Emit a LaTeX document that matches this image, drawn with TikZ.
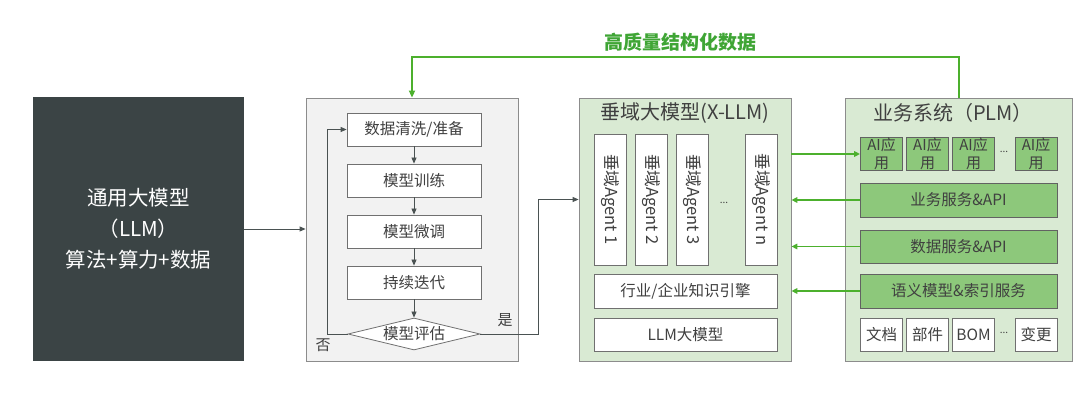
\documentclass[tikz,border=0pt]{standalone}
\usepackage{fontspec}
\setmainfont{Noto Sans CJK SC}
\usetikzlibrary{arrows.meta,shapes.geometric}
\definecolor{darkbox}{RGB}{59,68,69}
\definecolor{grayfill}{RGB}{242,242,242}
\definecolor{bordergray}{RGB}{140,140,140}
\definecolor{lightgreen}{RGB}{217,234,211}
\definecolor{midgreen}{RGB}{141,200,123}
\definecolor{linegreen}{RGB}{76,176,45}
\definecolor{textgreen}{RGB}{63,165,53}
\definecolor{conn}{RGB}{74,82,82}
\definecolor{txt}{RGB}{64,64,64}
\begin{document}
\begin{tikzpicture}[x=1pt,y=-1pt,
  panel/.style={draw=bordergray, line width=0.8pt, minimum width=#1, inner sep=0pt},
  wbox/.style={draw=bordergray!80!black, line width=0.8pt, fill=white, inner sep=0pt, text=txt, font=\fontsize{15.5}{17}\selectfont},
  gbox/.style={draw=bordergray!70!black, line width=0.8pt, fill=midgreen, inner sep=0pt, text=txt, font=\fontsize{15.5}{17}\selectfont},
  agent/.style={wbox, minimum width=32pt, minimum height=131pt},
  flow/.style={draw=conn, line width=0.8pt, -{Triangle[length=6pt,width=5pt]}},
  gline/.style={draw=linegreen, line width=1.8pt, -{Triangle[length=7pt,width=6pt]}},
  gside/.style={draw=linegreen, line width=1.5pt, -{Triangle[length=6pt,width=5.5pt]}},
  title/.style={text=txt, font=\fontsize{20}{22}\selectfont}
]
\useasboundingbox (0,0) rectangle (1080,411);

% left dark box
\node[fill=darkbox, minimum width=211pt, minimum height=264pt, inner sep=0pt,
      text=white, align=center, font=\fontsize{20.5}{31}\selectfont] (llm) at (138.5,229)
      {通用大模型\\（LLM）\\算法+算力+数据};

% gray process panel
\node[panel=212pt, fill=grayfill, minimum height=263pt] (proc) at (412,229.5) {};
\node[wbox, minimum width=134pt, minimum height=33pt] (b1) at (414,129.5) {数据清洗/准备};
\node[wbox, minimum width=134pt, minimum height=33pt] (b2) at (414,180.5) {模型训练};
\node[wbox, minimum width=134pt, minimum height=33pt] (b3) at (414,231.5) {模型微调};
\node[wbox, minimum width=134pt, minimum height=33pt] (b4) at (414,282.5) {持续迭代};
\node[wbox, diamond, aspect=4, minimum width=132pt, minimum height=32pt] (dm) at (414,334) {模型评估};
\node[text=txt, font=\fontsize{15}{17}\selectfont] (no) at (323,345) {否};
\node[text=txt, font=\fontsize{15}{17}\selectfont] (yes) at (505,320) {是};

% X-LLM panel
\node[panel=212pt, fill=lightgreen, minimum height=263pt] (xllm) at (685,229.5) {};
\node[title] (xt) at (685,113) {垂域大模型(X-LLM)};
\node[agent] (a1) at (610.5,199.5) {};
\node[agent] (a2) at (651,199.5) {};
\node[agent] (a3) at (692,199.5) {};
\node[agent] (an) at (761,199.5) {};
\foreach \n/\lab in {a1/垂域Agent 1,a2/垂域Agent 2,a3/垂域Agent 3,an/垂域Agent n}
  \node[rotate=-90, text=txt, font=\fontsize{16.5}{18}\selectfont] (\n t) at (\n) {\lab};
\node[text=txt, font=\fontsize{10}{12}\selectfont] (adots) at (724,203) {...};
\node[wbox, minimum width=183pt, minimum height=34pt] (kb) at (685.5,291) {行业/企业知识引擎};
\node[wbox, minimum width=183pt, minimum height=33pt] (lm) at (685.5,334.5) {LLM大模型};

% PLM panel
\node[panel=227pt, fill=lightgreen, minimum height=263pt] (plm) at (958.5,229.5) {};
\node[title] (pt) at (953,113) {业务系统（PLM）};
\foreach \n/\x in {ai1/881.5,ai2/927.5,ai3/973.5,ai4/1036}
  \node[gbox, minimum width=42pt, minimum height=33pt, align=center, font=\fontsize{15}{17.5}\selectfont] (\n) at (\x,154) {AI应\\用};
\node[text=txt, font=\fontsize{10}{12}\selectfont] (pdots1) at (1004,152) {...};
\node[gbox, minimum width=197pt, minimum height=34pt] (s1) at (958.5,200) {业务服务\&API};
\node[gbox, minimum width=197pt, minimum height=33pt] (s2) at (958.5,246.5) {数据服务\&API};
\node[gbox, minimum width=197pt, minimum height=34pt] (s3) at (958.5,291) {语义模型\&索引服务};
\foreach \n/\x/\lab in {d1/881.5/文档,d2/927.5/部件,d3/973.5/BOM,d4/1036/变更}
  \node[wbox, minimum width=42pt, minimum height=33pt] (\n) at (\x,334.5) {\lab};
\node[text=txt, font=\fontsize{10}{12}\selectfont] (pdots2) at (1004,333) {...};

% connectors
\draw[flow] (llm.east) -- (proc.west |- llm.east);
\draw[flow] (b1) -- (b2);
\draw[flow] (b2) -- (b3);
\draw[flow] (b3) -- (b4);
\draw[flow] (b4) -- (dm);
\coordinate (noL) at (327,334);
\draw[flow] (dm.west) -- (noL) |- (b1.west);
\coordinate (yesR) at (538,334);
\draw[flow] (dm.east) -- (yesR) |- (xllm.west |- a1.west);

% green connectors
\draw[gside] (xllm.east |- ai1.west) -- (ai1.west);
\draw[gside] (s1.west) -- (xllm.east |- s1.west);
\draw[gside] (s2.west) -- (xllm.east |- s2.west);
\draw[gside] (s3.west) -- (xllm.east |- s3.west);

\coordinate (topR) at (959,57);
\coordinate (topL) at (412,57);
\draw[gline] (plm.north -| topR) -- (topR) -- (topL) -- (proc.north -| topL);
\node[text=textgreen, font=\fontsize{19}{21}\selectfont\bfseries] (fb) at (680,42) {高质量结构化数据};
\end{tikzpicture}
\end{document}
